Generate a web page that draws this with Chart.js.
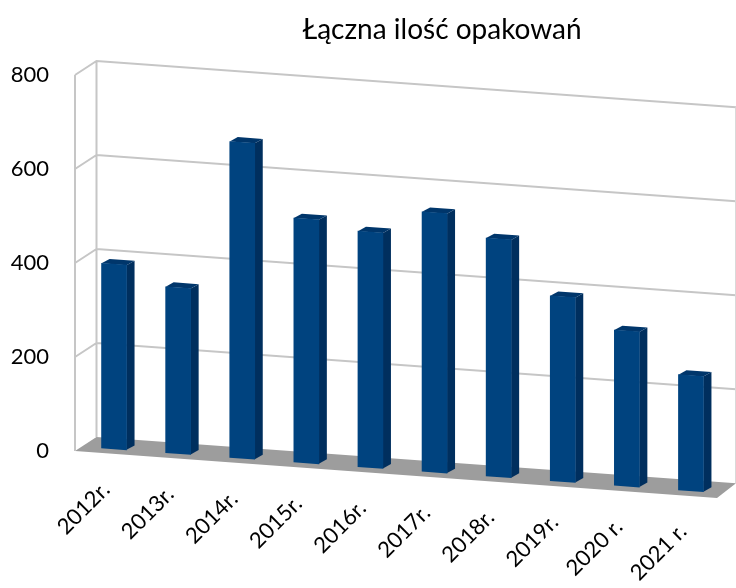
<!DOCTYPE html>
<html lang="pl">
<head>
<meta charset="utf-8">
<title>Łączna ilość opakowań</title>
<script src="https://cdn.jsdelivr.net/npm/chart.js@4/dist/chart.umd.min.js"></script>
<style>
    html, body { margin: 0; background: #fff; }
    #box { width: 736px; height: 588px; }
</style>
</head>
<body>
<div id="box"><canvas id="graphe"></canvas></div>
<script>
// données
const annees = ['2012r.', '2013r.', '2014r.', '2015r.', '2016r.', '2017r.', '2018r.', '2019r.', '2020 r.', '2021 r.'];
const opakowania = [393, 353, 672, 519, 501, 552, 506, 393, 330, 245];
const graduations = [0, 200, 400, 600, 800];
const titre = 'Łączna ilość opakowań';

// --- Faux 3D : pente du plan, profondeur des barres et des murs ---
const PENTE = 0.0725;
const POLICE = '"Lato", sans-serif';
const BLEU = '#00437f', BLEU_COTE = '#002f5e', BLEU_DESSUS = '#00366b';
const GRILLE = '#c6c6c6', SOL = '#9d9d9d';
const MUR = { gauche: 75, fond: 96.5, droite: 736, recul: 14 };
const PROF = { dx: 8, dy: 5 };

const faux3d = {
    id: 'faux3d',
    beforeDatasetsDraw(chart) {
        const { ctx, scales: { y } } = chart;
        const pente = (x) => (x - MUR.fond) * PENTE - MUR.recul;

        // sol
        const y0 = y.getPixelForValue(0);
        ctx.fillStyle = SOL;
        ctx.beginPath();
        ctx.moveTo(MUR.gauche, y0);
        ctx.lineTo(MUR.fond, y0 + pente(MUR.fond));
        ctx.lineTo(MUR.droite, y0 + pente(MUR.droite));
        ctx.lineTo(717, y0 + 47);
        ctx.closePath();
        ctx.fill();

        // murs et grille
        ctx.strokeStyle = GRILLE;
        ctx.lineWidth = 2;
        const y800 = y.getPixelForValue(800);
        ctx.beginPath();
        ctx.moveTo(MUR.gauche, y0);
        ctx.lineTo(MUR.gauche, y800);
        ctx.moveTo(MUR.fond, y0 + pente(MUR.fond));
        ctx.lineTo(MUR.fond, y800 + pente(MUR.fond));
        graduations.filter((v) => v > 0).forEach((v) => {
            const py = y.getPixelForValue(v);
            ctx.moveTo(MUR.gauche, py);
            ctx.lineTo(MUR.fond, py + pente(MUR.fond));
            ctx.lineTo(MUR.droite, py + pente(MUR.droite));
        });
        ctx.stroke();
        ctx.lineWidth = 1;
        ctx.strokeStyle = '#d9d9d9';
        ctx.beginPath();
        ctx.moveTo(MUR.droite - 0.5, y800 + pente(MUR.droite));
        ctx.lineTo(MUR.droite - 0.5, y0 + pente(MUR.droite));
        ctx.stroke();

        // barres : le cisaillement reste actif jusqu'à afterDatasetsDraw
        ctx.save();
        ctx.transform(1, PENTE, 0, 1, 0, -3 - PENTE * 101);
        chart.getDatasetMeta(0).data.forEach((b) => {
            const g = b.x - b.width / 2, d = b.x + b.width / 2;
            ctx.fillStyle = BLEU_COTE;
            ctx.beginPath();
            ctx.moveTo(d, b.y);
            ctx.lineTo(d + PROF.dx, b.y - PROF.dy);
            ctx.lineTo(d + PROF.dx, b.base - PROF.dy);
            ctx.lineTo(d, b.base);
            ctx.closePath();
            ctx.fill();
            ctx.fillStyle = BLEU_DESSUS;
            ctx.beginPath();
            ctx.moveTo(g, b.y);
            ctx.lineTo(g + PROF.dx, b.y - PROF.dy);
            ctx.lineTo(d + PROF.dx, b.y - PROF.dy);
            ctx.lineTo(d, b.y);
            ctx.closePath();
            ctx.fill();
        });
    },
    afterDatasetsDraw(chart) {
        const { ctx, scales: { x, y } } = chart;
        ctx.restore();

        // libellés de l'axe X, alignés sur la pente
        ctx.save();
        ctx.fillStyle = '#000';
        ctx.font = '22px ' + POLICE;
        ctx.textAlign = 'right';
        ctx.textBaseline = 'middle';
        annees.forEach((a, i) => {
            const px = x.getPixelForValue(i);
            ctx.save();
            ctx.translate(px - 8, y.getPixelForValue(0) + 35 + (px - 114) * PENTE);
            ctx.rotate(-Math.PI / 4);
            ctx.fillText(a, 0, 0);
            ctx.restore();
        });

        // titre
        ctx.font = '28px ' + POLICE;
        ctx.textAlign = 'center';
        ctx.fillText(titre, 442, 30);
        ctx.restore();
    },
};

new Chart(document.getElementById('graphe'), {
    type: 'bar',
    data: {
        labels: annees,
        datasets: [{
            label: titre,
            data: opakowania,
            backgroundColor: BLEU,
            barThickness: 25,
            clip: false,
        }],
    },
    options: {
        responsive: true,
        maintainAspectRatio: false,
        animation: false,
        layout: { padding: { top: 75, right: 13, bottom: 137, left: 0 } },
        plugins: { legend: { display: false }, tooltip: { enabled: false } },
        scales: {
            x: {
                afterFit: (s) => { s.height = 0; },
                grid: { display: false },
                border: { display: false },
                ticks: { display: false },
            },
            y: {
                min: 0,
                max: 800,
                afterBuildTicks: (s) => { s.ticks = graduations.map((value) => ({ value })); },
                afterFit: (s) => { s.width = 82; },
                grid: { display: false, drawTicks: false },
                border: { display: false },
                ticks: { color: '#000', padding: 33, font: { family: 'Lato', size: 22 } },
            },
        },
    },
    plugins: [faux3d],
});
</script>
</body>
</html>
